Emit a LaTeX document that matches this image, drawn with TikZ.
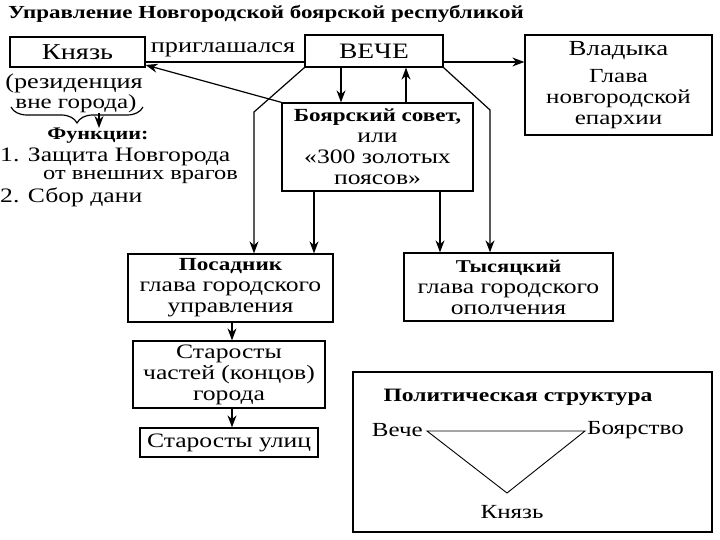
\documentclass[tikz,border=0pt]{standalone}
\usepackage{fontspec}
\setmainfont{Liberation Serif}[FakeStretch=1.25]
\usetikzlibrary{arrows.meta,decorations.pathreplacing}
\newcommand\fsz[1]{\fontsize{#1}{21}\selectfont}
\begin{document}
\begin{tikzpicture}[x=1pt,y=-1pt,
  box/.style={draw=black,line width=1.3pt,inner sep=0pt,align=center,font=\fsz{20.5}},
  ln/.style={line width=1.2pt},
  arr/.style={line width=1.2pt,-{Stealth[length=12pt,width=9pt]}},
  txt/.style={inner sep=0pt,font=\fsz{20.5}},
  btxt/.style={inner sep=0pt,font=\bfseries\fsz{18.5}}]
\useasboundingbox (0,0) rectangle (720,540);
\fill[white] (0,0) rectangle (720,540);
\node[btxt,anchor=west,font=\bfseries\fsz{18.4}] (title) at (8,14) {Управление Новгородской боярской республикой};
\node[box,minimum width=135pt,minimum height=30pt,font=\fsz{22.7}] (knyaz) at (77.5,52) {Князь};
\node[box,minimum width=138pt,minimum height=32pt,font=\fsz{22}] (veche) at (374,51) {ВЕЧЕ};
\node[box,minimum width=187pt,minimum height=100pt,font=\fsz{20}] (vladyka) at (618.5,85) {{\fsz{21.5}Владыка}\\[6pt]Глава\\новгородской\\епархии};
\node[box,minimum width=191pt,minimum height=88pt] (sovet) at (377.5,147) {{\bfseries\fsz{18.5}Боярский совет,}\\или\\«300 золотых\\поясов»};
\node[box,minimum width=205pt,minimum height=68pt] (posadnik) at (230.5,288) {{\bfseries\fsz{18.5}Посадник}\\глава городского\\управления};
\node[box,minimum width=209pt,minimum height=68pt] (tys) at (508.5,287) {{\bfseries\fsz{18}Тысяцкий}\\глава городского\\ополчения};
\node[box,minimum width=192pt,minimum height=67pt] (starosty) at (229,374.5) {Старосты\\частей (концов)\\города};
\node[box,minimum width=178pt,minimum height=29pt] (ulits) at (229,442.5) {Старосты улиц};
\node[box,minimum width=359pt,minimum height=160pt] (polit) at (532.5,452) {};
% left texts
\node[txt,font=\fsz{21}] (rez1) at (74,83) {(резиденция};
\node[txt,font=\fsz{20}] (rez2) at (76,104) {вне города)};
\draw[ln,decorate,decoration={brace,mirror,amplitude=16pt}] (11,107) -- (143,107);
\coordinate (br) at (99,113);
\coordinate (fnt) at (99,128);
\draw[arr] (br) -- (fnt);
\node[btxt,font=\bfseries\fsz{17.7}] (func) at (98,136) {Функции:};
\node[txt,anchor=west] (f1) at (0,157) {1. Защита Новгорода};
\node[txt,anchor=west,font=\fsz{19.5}] (f1b) at (43,177) {от внешних врагов};
\node[txt,anchor=west] (f2) at (0,197) {2. Сбор дани};
% connectors
\node[txt,font=\fsz{21}] (prig) at (223,50) {приглашался};
\draw[ln] (veche.west |- 0,62) -- (knyaz.east |- 0,62);
\draw[arr] (sovet.north west) -- (knyaz.east |- 0,65);
\draw[arr] (veche.south west) -- (254,112) -- (posadnik.north -| 254,0);
\draw[arr] (veche.south east) -- (490,110) -- (tys.north -| 490,0);
\draw[arr] (veche.east |- 0,62) -- (vladyka.west |- 0,62);
\draw[arr] (veche.south -| 341,0) -- (sovet.north -| 341,0);
\draw[arr] (sovet.north -| 406,0) -- (veche.south -| 406,0);
\draw[arr] (sovet.south -| 314,0) -- (posadnik.north -| 314,0);
\draw[arr] (sovet.south -| 440,0) -- (tys.north -| 440,0);
\draw[arr] (posadnik.south -| 232,0) -- (starosty.north -| 232,0);
\draw[arr] (starosty.south -| 232,0) -- (ulits.north -| 232,0);
% political structure
\node[btxt,font=\bfseries\fsz{18.9}] (ptitle) at (518,397) {Политическая структура};
\node[txt,anchor=east,font=\fsz{20}] (pv) at (423,430) {Вече};
\node[txt,anchor=west,font=\fsz{20}] (pb) at (587,430) {Боярство};
\node[txt,font=\fsz{20}] (pk) at (512,512) {Князь};
\coordinate (tv) at (427,431);
\coordinate (tb) at (585,431);
\coordinate (tk) at (507,493);
\draw[line width=0.9pt] (tv) -- (tb) -- (tk) -- cycle;
\end{tikzpicture}
\end{document}
